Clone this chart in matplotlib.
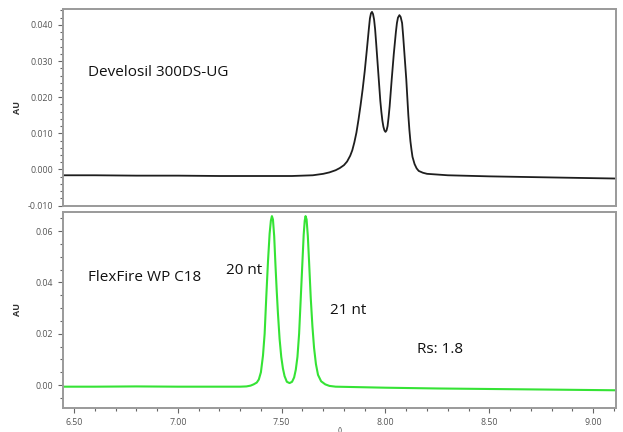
import matplotlib
matplotlib.use("Agg")
import matplotlib.pyplot as plt
from matplotlib.ticker import MultipleLocator, FormatStrFormatter

# ---- data (time in min, absorbance in AU) ----
develosil_t = [6.447, 6.60, 6.80, 7.00, 7.20, 7.40, 7.55, 7.65, 7.70, 7.73, 7.76, 7.78,
               7.80, 7.815, 7.83, 7.84, 7.85, 7.86, 7.87, 7.88, 7.89, 7.90, 7.91, 7.92,
               7.925, 7.93, 7.935, 7.94, 7.945, 7.95, 7.955, 7.96, 7.965, 7.97, 7.975,
               7.98, 7.985, 7.99, 7.995, 8.00, 8.005, 8.01, 8.015, 8.02, 8.03, 8.04,
               8.05, 8.055, 8.06, 8.067, 8.073, 8.08, 8.085, 8.09, 8.095, 8.10, 8.105,
               8.11, 8.115, 8.12, 8.125, 8.13, 8.14, 8.15, 8.16, 8.18, 8.20, 8.30, 8.50,
               8.70, 8.90, 9.11]
develosil_au = [-0.0016, -0.0016, -0.0017, -0.0017, -0.0018, -0.0018, -0.0018, -0.0016,
                -0.0012, -0.0008, -0.0002, 0.0004, 0.0012, 0.0022, 0.0038, 0.0053, 0.0075,
                0.0102, 0.0138, 0.0178, 0.0222, 0.0272, 0.0330, 0.0390, 0.0418, 0.0432,
                0.0436, 0.0430, 0.0415, 0.0388, 0.0350, 0.0310, 0.0270, 0.0230, 0.0190,
                0.0160, 0.0135, 0.0118, 0.0108, 0.0104, 0.0108, 0.0120, 0.0145, 0.0175,
                0.0250, 0.0320, 0.0380, 0.0405, 0.0420, 0.0427, 0.0422, 0.0405, 0.0370,
                0.0330, 0.0290, 0.0250, 0.0200, 0.0150, 0.0110, 0.0078, 0.0055, 0.0035,
                0.0015, 0.0003, -0.0004, -0.0009, -0.0012, -0.0016, -0.0019, -0.0021,
                -0.0023, -0.0025]

flexfire_t = [6.447, 6.60, 6.80, 7.00, 7.20, 7.30, 7.33, 7.35, 7.365, 7.38, 7.39, 7.40,
              7.41, 7.418, 7.426, 7.434, 7.442, 7.448, 7.453, 7.458, 7.464, 7.470, 7.476,
              7.482, 7.490, 7.498, 7.506, 7.514, 7.525, 7.538, 7.550, 7.560, 7.568, 7.576,
              7.584, 7.592, 7.600, 7.606, 7.611, 7.615, 7.620, 7.626, 7.632, 7.640, 7.648,
              7.656, 7.665, 7.675, 7.69, 7.71, 7.73, 7.76, 8.00, 8.25, 8.50, 8.75, 9.11]
flexfire_au = [-0.0006, -0.0006, -0.0005, -0.0006, -0.0006, -0.0006, -0.0005, -0.0002,
               0.0003, 0.0010, 0.0022, 0.0050, 0.0115, 0.0200, 0.0345, 0.0480, 0.0590,
               0.0640, 0.0658, 0.0645, 0.0580, 0.0470, 0.0370, 0.0280, 0.0180, 0.0110,
               0.0065, 0.0035, 0.0013, 0.0008, 0.0013, 0.0030, 0.0060, 0.0110, 0.0200,
               0.0340, 0.0480, 0.0585, 0.0640, 0.0658, 0.0645, 0.0580, 0.0480, 0.0340,
               0.0230, 0.0145, 0.0082, 0.0040, 0.0015, 0.0003, -0.0003, -0.0006, -0.0010,
               -0.0013, -0.0015, -0.0017, -0.0020]

top_label = "Develosil 300DS-UG"
bottom_label = "FlexFire WP C18"
peak_labels = ["20 nt", "21 nt"]
rs_label = "Rs: 1.8"

plt.rcParams['font.family'] = ['Open Sans', 'DejaVu Sans']

fig = plt.figure(figsize=(6.23, 4.32), dpi=100)
ax1 = fig.add_axes([63/623, 1-206/432, 553/623, 197/432])
ax2 = fig.add_axes([63/623, 1-408/432, 553/623, 196/432])

spine_c = '#9a9a9a'
tick_c = '#555555'
for ax in (ax1, ax2):
    for s in ax.spines.values():
        s.set_color(spine_c)
        s.set_linewidth(1.4)
    ax.tick_params(axis='both', which='both', direction='out', color='#666666',
                   labelcolor=tick_c, labelsize=6.3, width=0.8)
    ax.tick_params(which='major', length=3.5)
    ax.tick_params(which='minor', length=2)
    ax.set_xlim(6.447, 9.11)

ax1.plot(develosil_t, develosil_au, color='#1e1e1e', lw=1.3)
ax1.set_ylim(-0.0101, 0.0444)
ax1.yaxis.set_major_locator(MultipleLocator(0.010))
ax1.yaxis.set_minor_locator(MultipleLocator(0.002))
ax1.yaxis.set_major_formatter(FormatStrFormatter('%.3f'))
ax1.tick_params(axis='x', which='both', bottom=False, labelbottom=False)
ax1.set_ylabel('AU', fontsize=6.5, fontweight='bold', color='#333333')
ax1.yaxis.set_label_coords(-0.074, 0.5)
ax1.text(6.567, 0.0268, top_label, fontsize=11, va='center', ha='left', color='#111111')

ax2.plot(flexfire_t, flexfire_au, color='#35e335', lw=1.5)
ax2.set_ylim(-0.0089, 0.0674)
ax2.yaxis.set_major_locator(MultipleLocator(0.02))
ax2.yaxis.set_minor_locator(MultipleLocator(0.005))
ax2.yaxis.set_major_formatter(FormatStrFormatter('%.2f'))
ax2.xaxis.set_major_locator(MultipleLocator(0.5))
ax2.xaxis.set_minor_locator(MultipleLocator(0.1))
ax2.xaxis.set_major_formatter(FormatStrFormatter('%.2f'))
ax2.set_ylabel('AU', fontsize=6.5, fontweight='bold', color='#333333')
ax2.yaxis.set_label_coords(-0.074, 0.5)
ax2.text(6.567, 0.0419, bottom_label, fontsize=11, va='center', ha='left', color='#111111')
ax2.text(7.231, 0.0447, peak_labels[0], fontsize=11, va='center', ha='left', color='#111111')
ax2.text(7.731, 0.0291, peak_labels[1], fontsize=11, va='center', ha='left', color='#111111')
ax2.text(8.154, 0.0140, rs_label, fontsize=11, va='center', ha='left', color='#111111')

fig.text(340/623, 2/432, '()', fontsize=6, color=tick_c, ha='center', va='center')

fig.savefig('out.png', dpi=100)
